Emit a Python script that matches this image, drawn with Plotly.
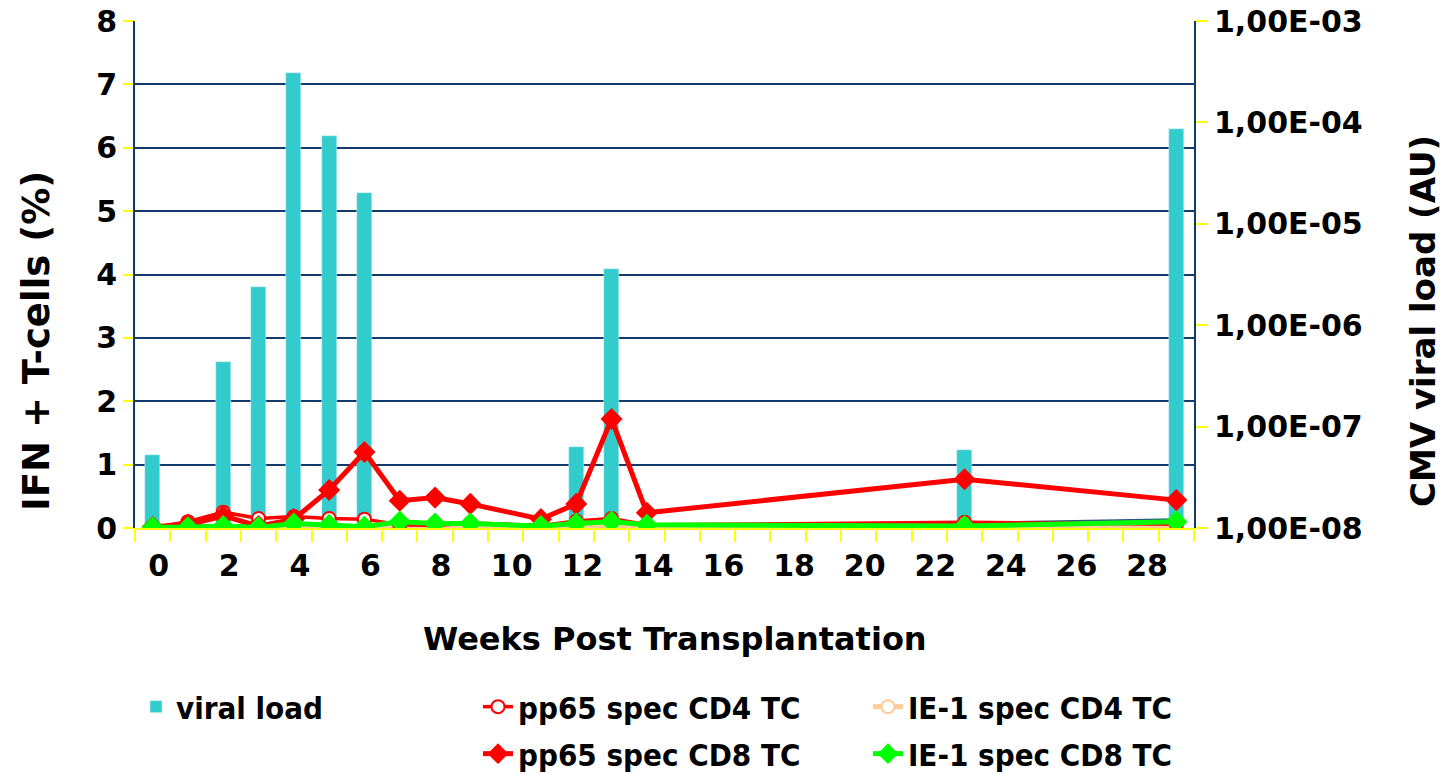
import plotly.graph_objects as go

# ---- data ----
weeks = [0, 1, 2, 3, 4, 5, 6, 7, 8, 9, 11, 12, 13, 14, 23, 29]
bar_weeks = [0, 2, 3, 4, 5, 6, 12, 13, 23, 29]
viral_load = [5.2e-8, 4.3e-7, 2.4e-6, 3.1e-4, 7.3e-5, 2.0e-5, 6.3e-8, 3.6e-6, 5.9e-8, 8.6e-5]
pp65_cd4 = [0.01, 0.1, 0.25, 0.15, 0.18, 0.15, 0.14, 0.05, 0.04, 0.08, 0.04, 0.11, 0.15, 0.05, 0.09, 0.06]
pp65_cd8 = [0.02, 0.05, 0.19, 0.03, 0.14, 0.6, 1.2, 0.43, 0.48, 0.38, 0.14, 0.38, 1.72, 0.24, 0.77, 0.44]
ie1_cd4 = [0.0, 0.0, 0.01, 0.0, 0.01, 0.01, 0.01, 0.02, 0.01, 0.02, 0.0, 0.01, 0.01, 0.01, 0.01, 0.0]
ie1_cd8 = [0.01, 0.01, 0.03, 0.01, 0.07, 0.05, 0.02, 0.1, 0.07, 0.07, 0.03, 0.07, 0.1, 0.05, 0.03, 0.1]
other_line = [0.02, 0.03, 0.05, 0.03, 0.08, 0.06, 0.04, 0.1, 0.08, 0.08, 0.05, 0.07, 0.1, 0.06, 0.08, 0.14]

x_tickvals = list(range(0, 29, 2))
x_ticktext = [str(v) for v in x_tickvals]
left_tickvals = list(range(0, 9))
right_tickvals = [1e-8, 1e-7, 1e-6, 1e-5, 1e-4, 1e-3]
right_ticktext = ["1,00E-08", "1,00E-07", "1,00E-06", "1,00E-05", "1,00E-04", "1,00E-03"]

FONT = "DejaVu Sans"
LEGFONT = "DejaVu Sans Condensed"
NAVY = "#123a6b"
YEL = "#ffff00"

# plot area in pixels (for converting text placement to paper coords)
PL, PR, PT, PB = 135, 1194, 21, 528
PW, PH = PR - PL, PB - PT


def px_x(px):
    return (px - PL) / PW


def px_y(py):
    return (PB - py) / PH


fig = go.Figure()

fig.add_trace(go.Bar(x=bar_weeks, y=viral_load, name="viral load", marker_color="#33cccc",
                     width=0.43, yaxis="y", legend="legend"))

fig.add_trace(go.Scatter(x=weeks, y=other_line, mode="lines", line=dict(color="#2b4f8a", width=2),
                         yaxis="y2", showlegend=False, hoverinfo="skip"))

fig.add_trace(go.Scatter(x=weeks, y=ie1_cd4, name="IE-1 spec CD4 TC", mode="lines+markers",
                         line=dict(color="#ffcc99", width=5),
                         marker=dict(symbol="circle", size=13, color="white",
                                     line=dict(color="#ffcc99", width=2)),
                         yaxis="y2", legend="legend2", legendrank=2))

fig.add_trace(go.Scatter(x=weeks, y=pp65_cd4, name="pp65 spec CD4 TC", mode="lines+markers",
                         line=dict(color="#ff0000", width=3.5),
                         marker=dict(symbol="circle", size=13, color="white",
                                     line=dict(color="#ff0000", width=2)),
                         yaxis="y2", legend="legend2", legendrank=1))

fig.add_trace(go.Scatter(x=weeks, y=pp65_cd8, name="pp65 spec CD8 TC", mode="lines+markers",
                         line=dict(color="#ff0000", width=5),
                         marker=dict(symbol="diamond", size=17, color="#ff0000"),
                         yaxis="y2", legend="legend3", legendrank=1))

fig.add_trace(go.Scatter(x=weeks, y=ie1_cd8, name="IE-1 spec CD8 TC", mode="lines+markers",
                         line=dict(color="#00ff00", width=5),
                         marker=dict(symbol="diamond", size=17, color="#00ff00"),
                         yaxis="y2", legend="legend3", legendrank=2))

tickfont = dict(family=FONT, size=30, color="black", weight="bold")
legfont = dict(family=LEGFONT, size=31, color="black", weight="bold")

fig.update_layout(
    width=1446, height=775,
    margin=dict(l=PL, r=1446 - PR, t=PT, b=775 - PB, autoexpand=False),
    paper_bgcolor="white", plot_bgcolor="white",
    bargap=0,
    xaxis=dict(
        range=[-0.5, 29.5], tickmode="array", tickvals=x_tickvals, ticktext=x_ticktext,
        ticks="", tickfont=tickfont, ticklabelshift=6, ticklabelstandoff=10,
        showgrid=False, zeroline=False, automargin=False,
        showline=True, linecolor=YEL, linewidth=2,
        minor=dict(tickmode="linear", tick0=-0.5, dtick=1, ticks="outside", ticklen=12,
                   tickcolor=YEL, tickwidth=2, showgrid=False),
    ),
    yaxis=dict(
        type="log", range=[-8, -3], side="right", automargin=False,
        tickmode="array", tickvals=right_tickvals, ticktext=right_ticktext,
        ticks="outside", ticklen=12, tickcolor=YEL, tickwidth=2,
        tickfont=tickfont, showgrid=False, zeroline=False,
        showline=True, linecolor=NAVY, linewidth=2,
    ),
    yaxis2=dict(
        overlaying="y", side="left", range=[0, 8], tickmode="array", tickvals=left_tickvals,
        ticks="outside", ticklen=10, tickcolor=YEL, tickwidth=2, automargin=False,
        tickfont=tickfont, showgrid=True, gridcolor=NAVY, gridwidth=2, zeroline=False,
        showline=True, linecolor=NAVY, linewidth=2,
    ),
    legend=dict(x=px_x(136), y=px_y(707), xanchor="left", yanchor="middle",
                orientation="h", font=legfont, bgcolor="rgba(0,0,0,0)"),
    legend2=dict(x=px_x(478), y=px_y(707), xanchor="left", yanchor="middle",
                 orientation="h", entrywidth=345, font=legfont, bgcolor="rgba(0,0,0,0)"),
    legend3=dict(x=px_x(478), y=px_y(754), xanchor="left", yanchor="middle",
                 orientation="h", entrywidth=345, font=legfont, bgcolor="rgba(0,0,0,0)"),
    showlegend=True,
    annotations=[
        dict(text="Weeks Post Transplantation", xref="paper", yref="paper",
             x=px_x(675), y=px_y(639), xanchor="center", yanchor="middle", showarrow=False,
             font=dict(family=FONT, size=32, color="black", weight="bold")),
        dict(text="IFN + T-cells (%)", xref="paper", yref="paper", textangle=-90,
             x=px_x(36), y=px_y(341), xanchor="center", yanchor="middle", showarrow=False,
             font=dict(family=FONT, size=37, color="black", weight="bold")),
        dict(text="CMV viral load (AU)", xref="paper", yref="paper", textangle=-90,
             x=px_x(1423), y=px_y(321), xanchor="center", yanchor="middle", showarrow=False,
             font=dict(family=FONT, size=34, color="black", weight="bold")),
    ],
)

fig.write_html("out.html")
